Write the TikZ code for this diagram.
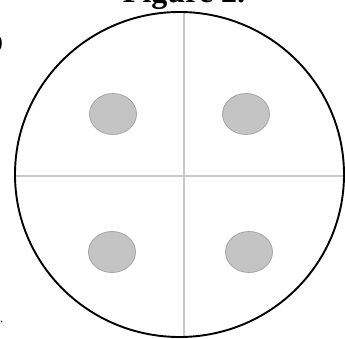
\documentclass[tikz,border=0pt]{standalone}
\usepackage{fontspec}
\setmainfont{Liberation Serif}
\definecolor{axisgray}{RGB}{200,200,200}
\definecolor{padfill}{RGB}{196,196,196}
\definecolor{padedge}{RGB}{165,165,165}
\newcommand{\pad}[2]{%
  \filldraw[fill=padfill,draw=padedge,line width=0.8pt] (#1,#2) ellipse (23.5 and 20.5);}
\begin{document}
\begin{tikzpicture}[x=1pt,y=-1pt]
    \useasboundingbox (0,0) rectangle (345,339);
    \node[font=\bfseries\fontsize{32}{32}\selectfont,anchor=base] (title) at (184,3) {Figure 2.};
    \node[font=\fontsize{20}{20}\selectfont,anchor=east,inner sep=0pt] (frag) at (3,44) {)};
    % quadrant lines, kept inside the rim
    \begin{scope}
      \clip (179.5,174.5) ellipse (164.5 and 162.5);
      \draw[axisgray,line width=1.3pt] (184,0) -- (184,339);
      \draw[axisgray,line width=1.3pt] (0,176) -- (345,176);
    \end{scope}
    \foreach \px/\py in {113/114,246/114,112/252,249/252}{\pad{\px}{\py}}
    \draw[line width=1.9pt] (179.5,174.5) ellipse (164.5 and 162.5);
    \fill (1.5,321.5) circle (0.9);
  \end{tikzpicture}
\end{document}
